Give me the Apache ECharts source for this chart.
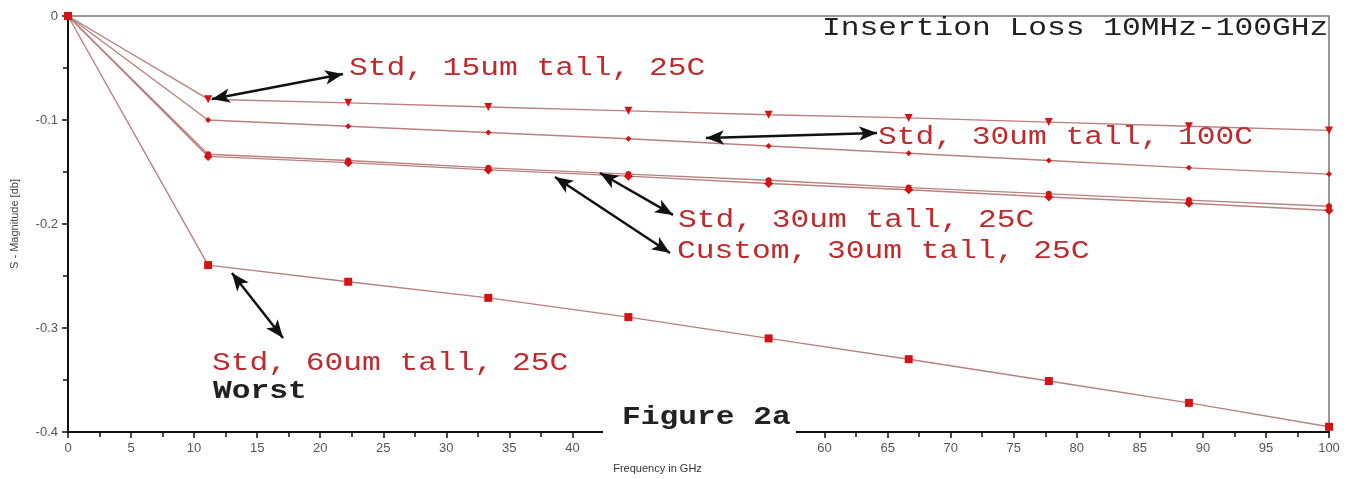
<!DOCTYPE html>
<html>
<head>
<meta charset="utf-8">
<script src="https://cdn.jsdelivr.net/npm/echarts@6/dist/echarts.min.js"></script>
<style>html,body{margin:0;padding:0;background:#fff}#c{width:1359px;height:479px}</style>
</head>
<body>
<div id="c"></div>
<script>
// Frequency points (GHz)
const freq = [0, 11.11, 22.22, 33.33, 44.44, 55.56, 66.67, 77.78, 88.89, 100];
// S-magnitude (dB) per configuration
const std15_25 = [0, -0.080, -0.0835, -0.0875, -0.0912, -0.095, -0.098, -0.102, -0.106, -0.110];
const std30_100 = [0, -0.100, -0.106, -0.112, -0.118, -0.125, -0.132, -0.139, -0.146, -0.152];
const std30_25 = [0, -0.135, -0.141, -0.148, -0.154, -0.161, -0.167, -0.174, -0.180, -0.187];
const custom30_25 = [0, -0.133, -0.139, -0.146, -0.152, -0.158, -0.165, -0.171, -0.177, -0.183];
const std60_25 = [0, -0.2395, -0.2555, -0.271, -0.2895, -0.310, -0.330, -0.351, -0.372, -0.395];

// Annotation arrows (data coordinates: [GHz, dB])
const arrows = [
  [[11.42, -0.0798], [21.81, -0.0558]],
  [[50.59, -0.1173], [64.16, -0.1125]],
  [[42.19, -0.1510], [47.98, -0.1913]],
  [[38.62, -0.1548], [47.74, -0.2279]],
  [[13.0, -0.2471], [17.05, -0.3096]]
];

const pair = (ys) => freq.map((x, i) => [x, ys[i]]);
const lineColor = '#b98080';
const markColor = '#d41414';
const labelFont = '"Liberation Sans Narrow", "Liberation Sans", sans-serif';
const mono = '"Liberation Mono", "DejaVu Sans Mono", monospace';
const red = '#bf2a2c';

function mk(name, data, symbol, size, rot) {
  return {
    name, type: 'line', data: pair(data), symbol, symbolSize: size,
    symbolRotate: rot || 0,
    lineStyle: { color: lineColor, width: 1.4 },
    itemStyle: { color: markColor },
    animation: false, z: 3
  };
}

const series = [
  mk('Std, 15um tall, 25C', std15_25, 'triangle', 8, 180),
  mk('Std, 30um tall, 100C', std30_100, 'diamond', 6),
  mk('Std, 30um tall, 25C', std30_25, 'diamond', 9),
  mk('Custom, 30um tall, 25C', custom30_25, 'circle', 6),
  mk('Std, 60um tall, 25C', std60_25, 'rect', 8)
];
series[4].markLine = {
  silent: true, animation: false,
  symbol: ['arrow', 'arrow'], symbolSize: [11, 18],
  label: { show: false },
  lineStyle: { color: '#111', width: 2.5, type: 'solid' },
  data: arrows.map(a => [{ coord: a[0] }, { coord: a[1] }])
};

function txt(s, x, y, color, weight) {
  return {
    type: 'text', x, y, scaleX: 1.25, z: 100,
    style: { text: s, font: (weight || 'normal') + ' 25px ' + mono, fill: color, align: 'left', verticalAlign: 'middle' }
  };
}

const chart = echarts.init(document.getElementById('c'), null, { renderer: 'canvas' });
chart.setOption({
  backgroundColor: '#fff',
  animation: false,
  grid: { left: 68, right: 30, top: 16, bottom: 47, show: true, borderColor: '#777', borderWidth: 1.5, backgroundColor: 'transparent', outerBoundsMode: 'none' },
  xAxis: {
    type: 'value', min: 0, max: 100, interval: 5,
    name: 'Frequency in GHz', nameLocation: 'middle', nameGap: 31,
    nameTextStyle: { fontFamily: labelFont, fontSize: 11, color: '#333', padding: [0, 82, 0, 0] },
    axisLine: { show: true, onZero: false, lineStyle: { color: '#111', width: 2 } },
    axisTick: { show: true, inside: false, length: 6, lineStyle: { color: '#111', width: 1.5 } },
    minorTick: { show: true, splitNumber: 2, length: 5, lineStyle: { color: '#111', width: 1.5 } },
    axisLabel: { fontFamily: labelFont, fontSize: 13, color: '#555', margin: 10 },
    splitLine: { show: false }, minorSplitLine: { show: false }
  },
  yAxis: {
    type: 'value', min: -0.4, max: 0, interval: 0.1,
    name: 'S - Magnitude [db]', nameLocation: 'middle', nameGap: 48, nameRotate: 90,
    nameTextStyle: { fontFamily: labelFont, fontSize: 11, color: '#444' },
    axisLine: { show: true, onZero: false, lineStyle: { color: '#111', width: 2 } },
    axisTick: { show: true, inside: false, length: 6, lineStyle: { color: '#111', width: 1.5 } },
    minorTick: { show: true, splitNumber: 2, length: 5, lineStyle: { color: '#111', width: 1.5 } },
    axisLabel: { fontFamily: labelFont, fontSize: 13, color: '#555', margin: 10,
      formatter: v => (v === 0 ? '0' : String(Math.round(v * 10) / 10)) },
    splitLine: { show: false }, minorSplitLine: { show: false }
  },
  series,
  graphic: [
    { type: 'rect', z: 99, shape: { x: 603, y: 403, width: 193, height: 54 }, style: { fill: '#fff' } },
    txt('Insertion Loss 10MHz-100GHz', 822, 28, '#222'),
    txt('Std, 15um tall, 25C', 349, 68, red),
    txt('Std, 30um tall, 100C', 878, 137, red),
    txt('Std, 30um tall, 25C', 678, 220, red),
    txt('Custom, 30um tall, 25C', 677, 251, red),
    txt('Std, 60um tall, 25C', 212, 363, red),
    txt('Worst', 213, 392, '#222', 'bold'),
    txt('Figure 2a', 622, 418, '#222', 'bold')
  ]
});
</script>
</body>
</html>
